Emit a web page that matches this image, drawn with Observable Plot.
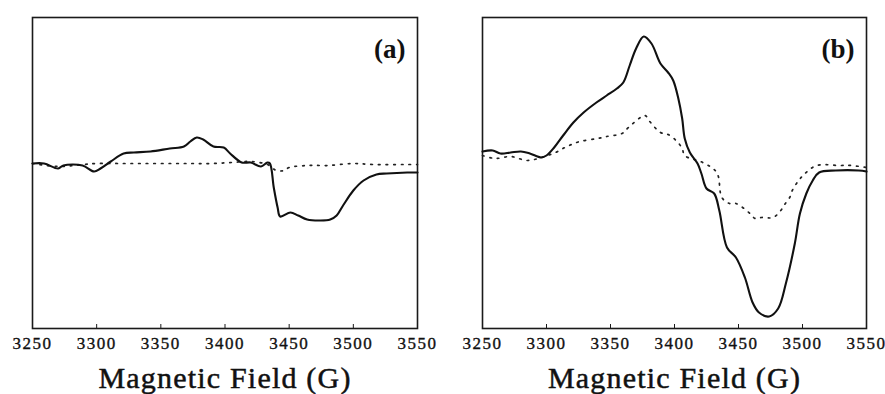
<!DOCTYPE html>
<html><head><meta charset="utf-8">
<script src="https://cdn.jsdelivr.net/npm/d3@7"></script>
<script src="https://cdn.jsdelivr.net/npm/@observablehq/plot@0.6"></script>
<style>
body{margin:0;background:#fff;}
#row{display:flex;width:885px;height:394px;overflow:hidden;}
svg{overflow:visible;}
svg text{font-family:"Liberation Serif","Times New Roman",serif;}
</style></head><body><div id="row"></div>
<script>
// Tick values (G)
const fieldTicks = [3250, 3300, 3350, 3400, 3450, 3500, 3550];
const axisTitle = "Magnetic Field (G)";
const panelLabels = ["(a)", "(b)"];

// Panel (a) – solid spectrum
const aSolidField = [3250,3259,3270,3274,3289,3298,3303,3311,3321,3329,3342,3357,3368,3373,3378,3383,3391,3399,3404,3413,3420,3428,3433,3435,3438,3441,3443,3451,3457,3464,3474,3482,3487,3492,3500,3508,3518,3526,3542,3550];
const aSolidSignal = [-1,-1,-6,-3,-3,-9,-6,1,9,10,11,14,16,21,25,23,16,15,9,0,0,-4,0,-1,-25,-45,-54,-50,-53,-57,-58,-57,-53,-43,-28,-18,-12,-11,-10,-10];
// Panel (a) – dotted spectrum
const aDotField = [3250,3270,3290,3300,3320,3340,3360,3375,3390,3405,3420,3433,3440,3446,3450,3465,3480,3500,3515,3540,3550];
const aDotSignal = [-1,-4,-2,-1,-1,-1,-1,-1,-1,0,1,-2,-8,-8,-5,-3,-3,-1,-2,-2,-2];

// Panel (b) – solid spectrum
const bSolidField = [3250,3258,3264,3272,3280,3287,3296,3300,3306,3313,3321,3329,3339,3347,3355,3360,3365,3370,3376,3382,3389,3395,3399,3403,3406,3408,3412,3418,3421,3425,3431,3435,3441,3448,3455,3461,3466,3474,3481,3487,3494,3498,3503,3508,3513,3526,3544,3550];
const bSolidSignal = [11,12,9,10,11,9,5,7,15,27,40,50,60,67,74,80,97,114,126,119,99,90,82,64,44,24,10,-1,-11,-26,-31,-48,-85,-95,-115,-140,-150,-154,-146,-121,-81,-51,-31,-18,-10,-8,-8,-9];
// Panel (b) – dotted spectrum
const bDotField = [3250,3260,3272,3285,3296,3307,3316,3326,3340,3347,3359,3364,3377,3380,3389,3395,3402,3406,3408,3422,3433,3437,3443,3448,3459,3463,3468,3477,3483,3486,3490,3492,3497,3502,3511,3529,3538,3550];
const bDotSignal = [7,4,6,2,5,10,16,21,24,26,29,35,47,42,30,28,21,14,7,0,-10,-35,-41,-41,-51,-56,-55,-55,-48,-42,-35,-28,-18,-11,-3,-3,-3,-5];

const toRows = (f, s) => f.map((field, i) => ({field, signal: s[i]}));
const serif = '"Liberation Serif", "Times New Roman", serif';

function panel(label, solid, dotted, width, marginLeft, marginRight) {
  const svg = Plot.plot({
    width, height: 394,
    marginTop: 17, marginBottom: 66, marginLeft, marginRight,
    x: {domain: [3250, 3550]},
    y: {domain: [-166, 145], axis: null},
    style: {fontFamily: serif, color: "#111", background: "white", overflow: "visible"},
    marks: [
      Plot.frame({stroke: "#1a1a1a", strokeWidth: 1.6}),
      Plot.line(dotted, {x: "field", y: "signal", stroke: "#222", strokeWidth: 1.7, strokeDasharray: "1.6 6", curve: "catmull-rom"}),
      Plot.line(solid, {x: "field", y: "signal", stroke: "#111", strokeWidth: 2.1, curve: "catmull-rom"}),
      Plot.axisX(fieldTicks, {tickSize: -4, tickPadding: 12, fontSize: 17, label: null, stroke: "#1a1a1a", tickFormat: d => String(d)}),
      Plot.text([label], {frameAnchor: "top-right", dx: -12, dy: 21, lineAnchor: "top", fontSize: 27, fontWeight: "bold", fill: "#111"}),
      Plot.text([axisTitle], {frameAnchor: "bottom", dy: 50, lineAnchor: "middle", fontSize: 30, fill: "#111"})
    ]
  });
  svg.querySelectorAll("text").forEach(t => {
    const s = t.textContent;
    t.setAttribute("font-family", serif);
    t.style.fontFamily = serif;
    if (s === axisTitle) {
      t.style.letterSpacing = "1.2px";
      t.setAttribute("stroke", "#111");
      t.setAttribute("stroke-width", "0.5");
    } else if (/^\d{4}$/.test(s)) {
      t.style.letterSpacing = "1.5px";
      t.setAttribute("stroke", "#111");
      t.setAttribute("stroke-width", "0.35");
    }
  });
  return svg;
}

const row = document.getElementById("row");
row.append(
  panel(panelLabels[0], toRows(aSolidField, aSolidSignal), toRows(aDotField, aDotSignal), 442, 32, 25),
  panel(panelLabels[1], toRows(bSolidField, bSolidSignal), toRows(bDotField, bDotSignal), 443, 40, 19)
);
</script>
</body></html>
